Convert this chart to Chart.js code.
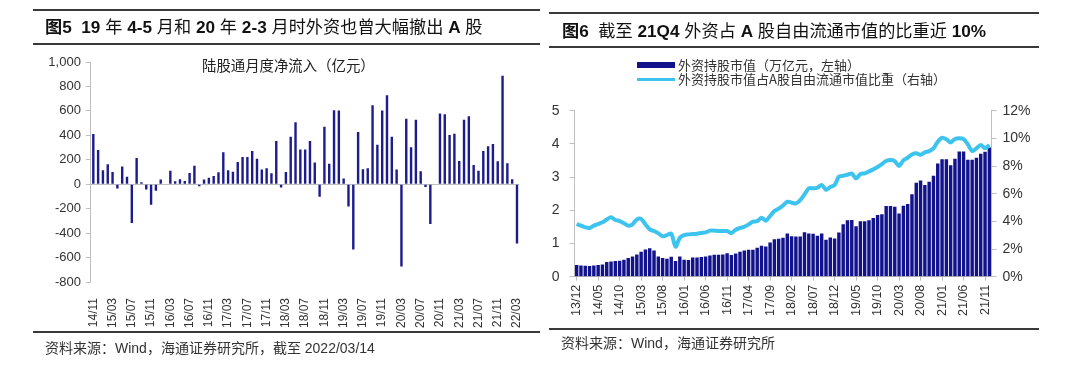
<!DOCTYPE html>
<html><head><meta charset="utf-8">
<script src="https://cdn.jsdelivr.net/npm/chart.js@4.4.1/dist/chart.umd.min.js"></script>
<style>
html,body{margin:0;padding:0;background:#fff;}
body{width:1080px;height:366px;position:relative;overflow:hidden;font-family:"Liberation Sans","Noto Sans CJK SC",sans-serif;color:#222;}
.rule{position:absolute;height:2px;background:#3a3a3a;z-index:2;}
.title{position:absolute;font-size:17.2px;line-height:20px;white-space:nowrap;color:#111;z-index:2;font-family:"Liberation Sans","Noto Sans CJK SC",sans-serif;}
.title b{font-weight:bold;}
.src{position:absolute;font-size:14px;line-height:16px;color:#333;white-space:nowrap;z-index:2;}
.lg{position:absolute;font-size:13px;line-height:16px;color:#333;white-space:nowrap;z-index:2;font-family:"Noto Sans CJK SC","Liberation Sans",sans-serif;}
.inner{position:absolute;font-size:14.4px;line-height:16px;color:#222;white-space:nowrap;z-index:2;font-family:"Noto Sans CJK SC",sans-serif;}
canvas{position:absolute;top:0;}
</style></head>
<body>
<div class="rule" style="left:33px;top:9px;width:507px;"></div>
<div class="rule" style="left:33px;top:43px;width:507px;"></div>
<div class="title" style="left:45px;top:17px;"><b>图5</b>&nbsp;&nbsp;<b>19</b> 年 <b>4-5</b> 月和 <b>20</b> 年 <b>2-3</b> 月时外资也曾大幅撤出 <b>A</b> 股</div>
<div class="rule" style="left:549px;top:12px;width:490px;"></div>
<div class="rule" style="left:549px;top:46px;width:490px;"></div>
<div class="title" style="left:562px;top:21px;"><b>图6</b>&nbsp;&nbsp;截至 <b>21Q4</b> 外资占 <b>A</b> 股自由流通市值的比重近 <b>10%</b></div>

<div class="inner" style="left:202px;top:57px;">陆股通月度净流入（亿元）</div>

<div style="position:absolute;left:637px;top:62px;width:38px;height:6px;background:#12128c;z-index:2;"></div>
<div class="lg" style="left:678px;top:57px;">外资持股市值（万亿元，左轴）</div>
<div style="position:absolute;left:637px;top:78px;width:38px;height:3px;background:#3cc3ee;z-index:2;"></div>
<div class="lg" style="left:678px;top:71px;">外资持股市值占A股自由流通市值比重（右轴）</div>

<div class="rule" style="left:33px;top:331px;width:507px;"></div>
<div class="src" style="left:45px;top:340px;">资料来源：Wind，海通证券研究所，截至 2022/03/14</div>
<div class="rule" style="left:549px;top:328px;width:490px;"></div>
<div class="src" style="left:561px;top:335px;">资料来源：Wind，海通证券研究所</div>

<canvas id="c1" width="540" height="366" style="left:0;width:540px;height:366px;"></canvas>
<canvas id="c2" width="540" height="366" style="left:540px;width:540px;height:366px;"></canvas>

<script>
// ---- Left chart: 陆股通月度净流入（亿元） ----
const leftMonths = ["14/11","14/12",
"15/01","15/02","15/03","15/04","15/05","15/06","15/07","15/08","15/09","15/10","15/11","15/12",
"16/01","16/02","16/03","16/04","16/05","16/06","16/07","16/08","16/09","16/10","16/11","16/12",
"17/01","17/02","17/03","17/04","17/05","17/06","17/07","17/08","17/09","17/10","17/11","17/12",
"18/01","18/02","18/03","18/04","18/05","18/06","18/07","18/08","18/09","18/10","18/11","18/12",
"19/01","19/02","19/03","19/04","19/05","19/06","19/07","19/08","19/09","19/10","19/11","19/12",
"20/01","20/02","20/03","20/04","20/05","20/06","20/07","20/08","20/09","20/10","20/11","20/12",
"21/01","21/02","21/03","21/04","21/05","21/06","21/07","21/08","21/09","21/10","21/11","21/12",
"22/01","22/02","22/03"];
const leftFlow = [410,280,
114,163,100,-35,144,62,-318,215,17,-43,-168,-54,
38,4,111,24,41,27,92,152,-16,38,52,68,
98,261,114,103,182,223,223,272,209,120,130,90,
353,-27,100,388,508,285,285,353,177,-103,470,168,
606,603,46,-182,-535,427,122,130,647,323,603,728,
388,120,-674,535,302,527,106,-22,-326,3,579,573,
402,413,190,527,557,158,111,272,310,329,187,888,
171,41,-485];
const leftYTicks = {min:-800, max:1000, step:200};

// ---- Right chart: 外资持股市值 / 占比 ----
const rightMonths = ["13/12",
"14/01","14/02","14/03","14/04","14/05","14/06","14/07","14/08","14/09","14/10","14/11","14/12",
"15/01","15/02","15/03","15/04","15/05","15/06","15/07","15/08","15/09","15/10","15/11","15/12",
"16/01","16/02","16/03","16/04","16/05","16/06","16/07","16/08","16/09","16/10","16/11","16/12",
"17/01","17/02","17/03","17/04","17/05","17/06","17/07","17/08","17/09","17/10","17/11","17/12",
"18/01","18/02","18/03","18/04","18/05","18/06","18/07","18/08","18/09","18/10","18/11","18/12",
"19/01","19/02","19/03","19/04","19/05","19/06","19/07","19/08","19/09","19/10","19/11","19/12",
"20/01","20/02","20/03","20/04","20/05","20/06","20/07","20/08","20/09","20/10","20/11","20/12",
"21/01","21/02","21/03","21/04","21/05","21/06","21/07","21/08","21/09","21/10","21/11","21/12"];
const holdingValue = [0.35,0.34,0.33,0.32,0.34,0.35,0.37,0.44,0.46,0.47,
0.48,0.51,0.56,0.61,0.67,0.75,0.82,0.86,0.79,0.61,
0.56,0.54,0.60,0.47,0.61,0.51,0.50,0.58,0.58,0.59,
0.61,0.64,0.66,0.66,0.67,0.71,0.65,0.70,0.75,0.79,
0.81,0.81,0.87,0.93,0.91,1.03,1.13,1.14,1.17,1.30,
1.22,1.21,1.21,1.34,1.30,1.29,1.23,1.30,1.11,1.18,
1.15,1.33,1.58,1.70,1.71,1.52,1.67,1.67,1.70,1.77,
1.86,1.88,2.13,2.13,2.11,1.90,2.14,2.19,2.48,2.83,
2.90,2.76,2.86,3.04,3.41,3.54,3.54,3.36,3.55,3.77,
3.77,3.52,3.52,3.58,3.70,3.76,3.89];
const holdingShare = [3.81,3.69,3.57,3.52,3.69,3.81,3.93,4.14,4.29,4.10,
4.02,3.86,3.69,3.78,4.14,4.17,3.78,3.42,3.30,3.13,
2.92,3.01,3.11,2.17,2.82,3.01,3.06,3.08,3.11,3.16,
3.20,3.33,3.33,3.30,3.30,3.30,3.16,3.40,3.52,3.61,
3.78,3.98,4.02,4.27,4.05,4.39,4.75,4.92,5.15,5.42,
5.35,5.30,5.54,5.95,6.39,6.39,6.43,6.63,6.29,6.48,
6.63,7.23,7.30,7.37,7.45,7.11,7.42,7.47,7.61,7.76,
7.93,8.14,8.36,8.43,8.36,8.00,8.41,8.60,8.84,8.92,
8.82,8.99,9.08,9.28,9.76,10.05,9.93,9.71,9.95,10.00,
9.95,9.57,9.08,9.28,9.52,9.28,9.52];
const leftAxisTicks = {min:0, max:5, step:1};
const rightAxisTicks = {min:0, max:12, step:2};

const AXIS = '#bfbfbf';
const TXT = '#333';
const NUMFONT = 'Liberation Sans';

new Chart(document.getElementById('c1'), {
  type:'bar',
  data:{labels:leftMonths, datasets:[{data:leftFlow, backgroundColor:'#1c1c8c', barPercentage:0.5, categoryPercentage:1}]},
  options:{
    responsive:false, animation:false, devicePixelRatio:1,
    layout:{padding:{top:62, bottom:34, left:0, right:20.6}},
    plugins:{legend:{display:false}, tooltip:{enabled:false}},
    scales:{
      x:{
        grid:{display:false}, border:{display:false},
        ticks:{autoSkip:false, minRotation:90, maxRotation:90, padding:8, color:TXT,
          font:{size:12, family:NUMFONT},
          callback:function(v,i){ return i%4===0 ? this.getLabelForValue(v) : ''; }},
        afterFit:s=>{ s.height = 50; }
      },
      y:{
        min:leftYTicks.min, max:leftYTicks.max,
        ticks:{stepSize:leftYTicks.step, color:TXT, padding:5, font:{size:13, family:NUMFONT},
          callback:v=>v.toLocaleString('en-US')},
        grid:{color:c=>(c.tick && c.tick.value===0) ? AXIS : 'rgba(0,0,0,0)', tickColor:AXIS, tickLength:5},
        border:{color:AXIS},
        afterFit:s=>{ s.width = 90.9; }
      }
    }
  }
});

new Chart(document.getElementById('c2'), {
  type:'bar',
  data:{labels:rightMonths, datasets:[
    {type:'line', data:holdingShare, yAxisID:'y1', borderColor:'#3cc3ee', borderWidth:4, pointRadius:0, tension:0.3, order:0},
    {type:'bar', data:holdingValue, yAxisID:'y', backgroundColor:'#12128c', barPercentage:0.8, categoryPercentage:1, order:1}
  ]},
  options:{
    responsive:false, animation:false, devicePixelRatio:1,
    layout:{padding:{top:110.7, bottom:39.3, left:0, right:38.5}},
    plugins:{legend:{display:false}, tooltip:{enabled:false}},
    scales:{
      x:{
        grid:{display:true, drawOnChartArea:false, offset:false, tickLength:4,
          color:c=>(c.index%5===0) ? AXIS : 'rgba(0,0,0,0)'},
        border:{color:AXIS},
        ticks:{autoSkip:false, minRotation:90, maxRotation:90, padding:4, color:TXT,
          font:{size:12.5, family:NUMFONT},
          callback:function(v,i){ return i%5===0 ? this.getLabelForValue(v) : ''; }},
        afterFit:s=>{ s.height = 50; }
      },
      y:{
        position:'left', min:leftAxisTicks.min, max:leftAxisTicks.max,
        ticks:{stepSize:leftAxisTicks.step, color:TXT, padding:10, font:{size:14, family:NUMFONT}},
        grid:{drawOnChartArea:false, tickLength:5, color:AXIS},
        border:{color:AXIS},
        afterFit:s=>{ s.width = 34.5; }
      },
      y1:{
        position:'right', min:rightAxisTicks.min, max:rightAxisTicks.max,
        ticks:{stepSize:rightAxisTicks.step, color:TXT, padding:6, font:{size:14, family:NUMFONT},
          callback:v=>v+'%'},
        grid:{drawOnChartArea:false, tickLength:5, color:AXIS},
        border:{color:AXIS},
        afterFit:s=>{ s.width = 50; }
      }
    }
  }
});
</script>
</body></html>
